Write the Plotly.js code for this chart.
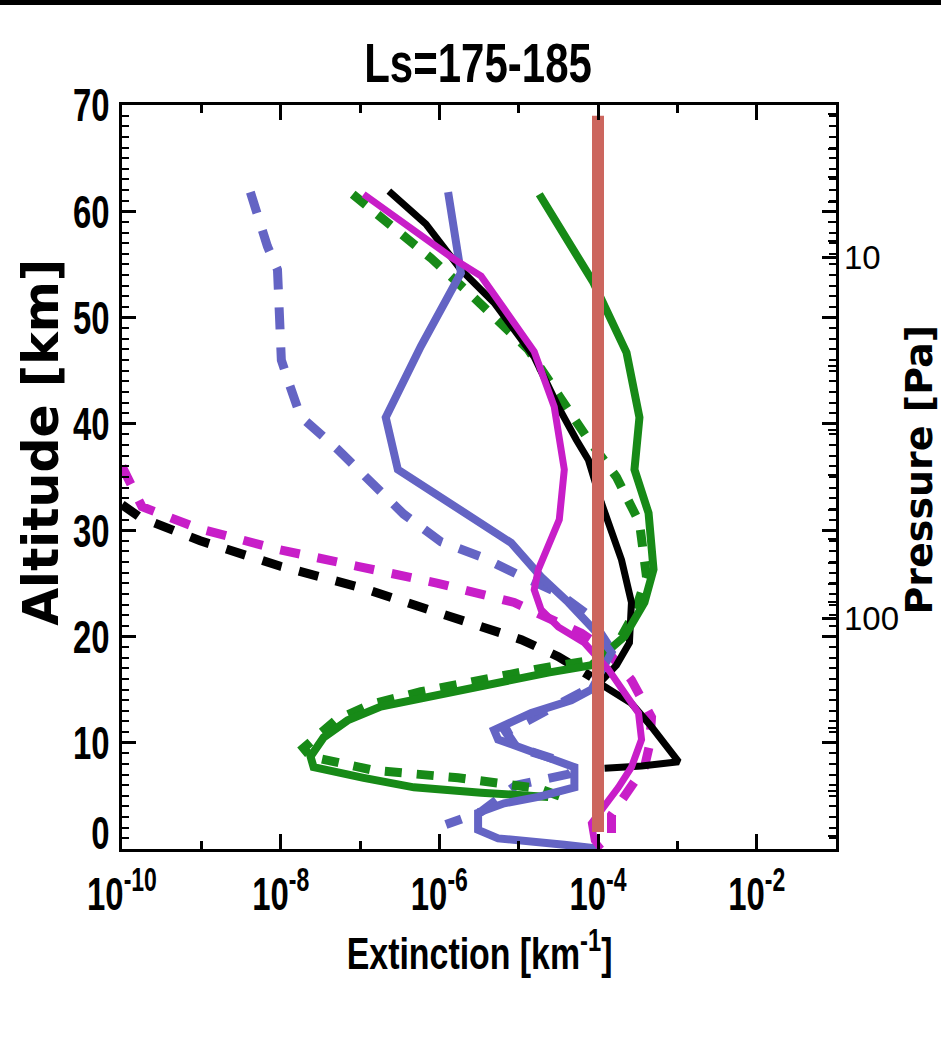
<!DOCTYPE html>
<html>
<head>
<meta charset="utf-8">
<script src="https://cdn.plot.ly/plotly-3.0.1.min.js"></script>
<style>
html,body{margin:0;padding:0;background:#fff;}
#chart{width:941px;height:1047px;}
</style>
</head>
<body>
<div id="chart"></div>
<script>
// ---- data (extinction in km^-1 vs altitude in km) ----
const greenSolidX = [1.82e-5,8.75e-5,2.29e-4,3.33e-4,2.88e-4,4.34e-4,5.01e-4,3.85e-4,2.16e-4,8.26e-5,2.36e-5,3.36e-6,6.38e-7,1.83e-7,6.98e-8,3.48e-8,2.38e-8,2.60e-8,1.11e-7,4.78e-7,3.36e-6,2.36e-5];
const greenSolidY = [61.6,53.3,46.7,40.6,35.7,31.6,26.3,23.2,20.0,17.3,16.6,15.3,14.3,13.4,12.1,10.5,8.7,7.7,6.7,5.8,5.3,4.9];

const greenDashX = [8.09e-8,2.82e-7,7.83e-7,2.30e-6,5.51e-6,1.32e-5,3.25e-5,7.13e-5,1.71e-4,3.33e-4,4.09e-4,2.88e-4,1.98e-4,8.99e-5,1.92e-5,3.36e-6,5.85e-7,1.36e-7,4.93e-8,1.94e-8,2.38e-8,1.49e-7,1.72e-6,1.77e-5,4.61e-5];
const greenDashY = [61.6,58.3,55.6,52.4,49.6,47.0,42.6,38.8,35.0,30.7,25.6,22.2,20.0,17.8,17.0,15.9,14.8,13.6,12.1,9.5,8.7,7.4,6.7,5.7,4.6];

const blackSolidX = [2.31e-7,6.78e-7,1.87e-6,4.90e-6,1.57e-5,3.16e-5,5.33e-5,7.57e-5,1.10e-4,1.98e-4,2.64e-4,2.49e-4,1.71e-4,1.04e-4,2.64e-4,4.73e-4,1.04e-3,3.54e-4,1.21e-4];
const blackSolidY = [61.9,58.8,54.5,51.4,46.3,41.6,38.5,36.6,32.6,27.2,23.2,19.4,17.3,15.6,13.7,11.5,8.2,7.8,7.6];

const blackDashX = [1.0e-10,1.69e-10,9.68e-10,9.93e-9,1.02e-7,1.05e-6,1.08e-5,3.16e-5,8.26e-5];
const blackDashY = [32.4,31.2,29.0,26.6,24.6,22.2,19.7,18.1,16.2];

const magentaSolidX = [1.11e-7,1.53e-6,3.36e-6,1.57e-5,2.81e-5,3.76e-5,3.25e-5,1.77e-5,1.57e-5,1.92e-5,3.16e-5,6.73e-5,1.35e-4,3.24e-4,3.54e-4,2.64e-4,1.81e-4,1.10e-4,8.26e-5,8.99e-5,1.10e-4];
const magentaSolidY = [61.6,55.5,53.9,46.8,41.6,35.7,31.0,26.3,24.4,22.5,20.9,19.4,16.9,12.8,10.3,7.7,5.8,3.7,2.4,0.8,0.0];

const magentaDashX = [1.0e-10,1.79e-10,8.87e-10,9.12e-9,9.35e-8,9.59e-7,8.77e-6,2.36e-5,6.17e-5,1.28e-4,2.64e-4,4.73e-4,4.47e-4,3.85e-4,1.98e-4,1.48e-4,1.48e-4];
const magentaDashY = [36.0,32.2,30.2,28.2,26.6,25.0,23.2,21.8,20.3,18.7,15.9,12.4,9.8,7.7,4.6,3.2,0.2];

const blueSolidX = [1.29e-6,1.87e-6,5.85e-7,2.44e-7,2.11e-7,3.00e-7,1.87e-6,8.04e-6,1.92e-5,4.23e-5,8.99e-5,1.48e-4,8.26e-5,4.61e-5,1.44e-5,4.90e-6,5.51e-6,1.77e-5,5.04e-5,5.04e-5,1.77e-5,6.56e-6,3.08e-6,3.08e-6,5.51e-6,3.76e-5,1.10e-4];
const blueSolidY = [61.8,54.2,47.3,41.3,40.6,35.7,31.9,28.8,25.6,23.2,20.6,18.5,15.0,14.0,12.8,11.2,10.3,9.0,7.7,5.8,4.9,4.3,3.4,1.8,1.0,0.4,0.0];

const blueDashX = [4.15e-9,5.24e-9,6.81e-9,9.12e-9,9.37e-9,9.66e-9,1.02e-8,1.29e-8,1.78e-8,5.22e-8,1.36e-7,3.56e-7,1.05e-6,3.36e-6,9.86e-6,3.16e-5,7.57e-5,1.48e-4,7.13e-5,2.23e-5,6.95e-6,9.29e-6,2.98e-5,3.99e-5,9.29e-6,3.36e-6,1.21e-6];
const blueDashY = [61.8,59.2,56.7,54.5,51.7,48.9,46.0,43.7,40.7,37.6,34.6,31.5,28.9,27.5,25.8,24.1,22.0,18.7,15.0,12.9,11.0,9.6,8.4,7.0,6.0,3.5,2.3];

const refLineX = [1e-4, 1e-4];
const refLineY = [1.6, 69.0];

const xTickVals = [1e-10, 1e-8, 1e-6, 1e-4, 1e-2];
const xTickText = ['10<sup>-10</sup>','10<sup>-8</sup>','10<sup>-6</sup>','10<sup>-4</sup>','10<sup>-2</sup>'];
const xMinorVals = [1e-9, 1e-7, 1e-5, 1e-3, 1e-1];
const pressureTickVals = [10, 100];
const pressureTickText = ['10', '100'];

// ---- styles ----
const GREEN = '#178A17', BLACK = '#000000', MAGENTA = '#C81EC8', BLUE = '#6464C4', SALMON = '#CC665E';
const HELV = '"Liberation Sans", Arial, sans-serif';
const WIDE = '"DejaVu Sans", sans-serif';

function tr(x, y, color, width, dash) {
  return {x: x, y: y, type: 'scatter', mode: 'lines', hoverinfo: 'skip', showlegend: false,
          line: {color: color, width: width, dash: dash || 'solid'}};
}

const traces = [
  tr(blueDashX, blueDashY, BLUE, 9, '22px,18px'),
  tr(blackDashX, blackDashY, BLACK, 9, '20px,18px'),
  tr(magentaDashX, magentaDashY, MAGENTA, 9, '20px,18px'),
  tr(greenDashX, greenDashY, GREEN, 9, '17px,15px'),
  tr(blackSolidX, blackSolidY, BLACK, 7),
  tr(greenSolidX, greenSolidY, GREEN, 8),
  tr(blueSolidX, blueSolidY, BLUE, 8),
  tr(magentaSolidX, magentaSolidY, MAGENTA, 7),
  tr(refLineX, refLineY, SALMON, 12),
  {x: [1e-10], y: [100], yaxis: 'y2', type: 'scatter', mode: 'markers', marker: {opacity: 0}, hoverinfo: 'skip', showlegend: false}
];

const layout = {
  width: 941, height: 1047,
  margin: {l: 122, r: 105, t: 105, b: 198},
  paper_bgcolor: '#ffffff', plot_bgcolor: '#ffffff',
  showlegend: false,
  title: {text: 'Ls=175-185', x: 0.508, xanchor: 'center', y: 1 - 62/1047, yanchor: 'middle', yref: 'container',
          font: {family: HELV, size: 56, weight: 'bold', color: '#000'}},
  xaxis: {
    type: 'log', range: [-10, -1], showgrid: false, zeroline: false,
    showline: true, linecolor: '#000', linewidth: 3, mirror: 'ticks',
    ticks: 'inside', ticklen: 15, tickwidth: 3, tickcolor: '#000',
    tickmode: 'array', tickvals: xTickVals, ticktext: xTickText,
    ticklabelstandoff: 2,
    tickfont: {family: HELV, size: 47, weight: 'bold', color: '#000'},
    minor: {tickmode: 'array', tickvals: xMinorVals, ticks: 'inside', ticklen: 8, tickwidth: 3, tickcolor: '#000', showgrid: false}
  },
  yaxis: {
    range: [0, 70], showgrid: false, zeroline: false,
    showline: true, linecolor: '#000', linewidth: 3, mirror: 'ticks',
    ticks: 'inside', ticklen: 14, tickwidth: 3, tickcolor: '#000',
    tickmode: 'linear', tick0: 0, dtick: 10,
    tickfont: {family: HELV, size: 47, weight: 'bold', color: '#000'},
    minor: {tickmode: 'linear', tick0: 0, dtick: 1, ticks: 'inside', ticklen: 7, tickwidth: 2, tickcolor: '#000', showgrid: false}
  },
  yaxis2: {
    type: 'log', overlaying: 'y', side: 'right', range: [2.637, 0.578],
    showgrid: false, zeroline: false, showline: false,
    ticks: 'inside', ticklen: 14, tickwidth: 3, tickcolor: '#000',
    tickmode: 'array', tickvals: pressureTickVals, ticktext: pressureTickText,
    ticklabelstandoff: 7,
    tickfont: {family: HELV, size: 33, color: '#000'},
    minor: {dtick: 'D1', ticks: 'inside', ticklen: 8, tickwidth: 2, tickcolor: '#000', showgrid: false}
  },
  annotations: [
    {text: 'Extinction [km<sup>-1</sup>]', xref: 'paper', yref: 'paper', x: 0.501, y: -0.136,
     xanchor: 'center', yanchor: 'middle', showarrow: false, font: {family: HELV, size: 44, weight: 'bold', color: '#000'}},
    {text: '<b>Altitude [km]</b>', xref: 'paper', yref: 'paper', x: -0.112, y: 0.546, textangle: -90,
     xanchor: 'center', yanchor: 'middle', showarrow: false, font: {family: WIDE, size: 49, color: '#000'}},
    {text: '<b>Pressure [Pa]</b>', xref: 'paper', yref: 'paper', x: (919 - 122) / 714, y: 0.51, textangle: -90,
     xanchor: 'center', yanchor: 'middle', showarrow: false, font: {family: WIDE, size: 38, color: '#000'}}
  ],
  shapes: [
    {type: 'rect', xref: 'paper', yref: 'paper', x0: -0.2, x1: 1.2, y0: (849-5)/744, y1: 1.2,
     fillcolor: '#000', line: {width: 0}, layer: 'above'}
  ]
};

// squeeze a text element horizontally about its own anchor (mimics the condensed face of the original)
function condense(el, s) {
  const x = parseFloat(el.getAttribute('x')) || 0;
  const t = el.getAttribute('transform') || '';
  el.setAttribute('transform', t + ' translate(' + x + ',0) scale(' + s + ',1) translate(' + (-x) + ',0)');
}

Plotly.newPlot('chart', traces, layout, {staticPlot: true, displayModeBar: false}).then(function (gd) {
  gd.querySelectorAll('.xtick text, .ytick text').forEach(function (el) {
    if (el.closest('.y2tick')) return;
    condense(el, 0.70);
    if (el.closest('.ytick') && el.textContent.trim() === '0') {
      const t = el.getAttribute('transform') || '';
      el.setAttribute('transform', 'translate(0,-16) ' + t);
    }
  });
  const title = gd.querySelector('.gtitle');
  if (title) condense(title, 0.75);
  const ann = gd.querySelectorAll('.annotation-text');
  if (ann.length) condense(ann[0], 0.77);
});
</script>
</body>
</html>
